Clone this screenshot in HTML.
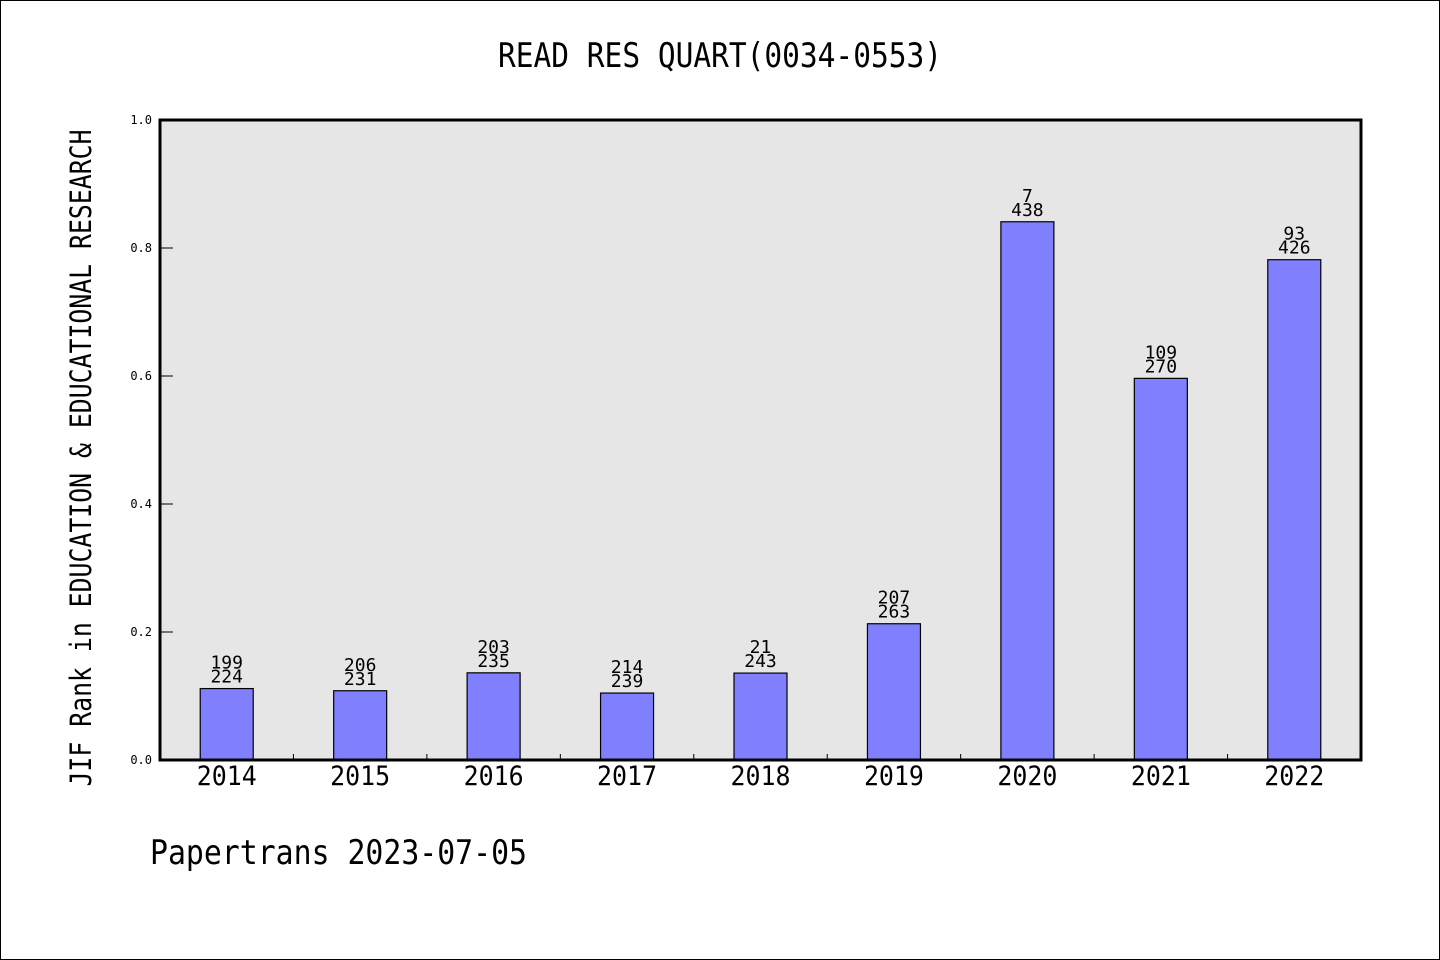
<!DOCTYPE html>
<html><head><meta charset="utf-8"><style>
html,body{margin:0;padding:0;background:#fff}
svg{display:block}
text{font-family:"WenQuanYi Zen Hei Mono","WenQuanYi Zen Hei","DejaVu Sans Mono",monospace;fill:#000}
</style></head><body>
<svg id="chart" width="1440" height="960" xmlns="http://www.w3.org/2000/svg">
<rect x="0.5" y="0.5" width="1439" height="959" fill="#fff" stroke="#000"/>
<text x="720" y="67" text-anchor="middle" font-size="34" textLength="444" lengthAdjust="spacingAndGlyphs">READ RES QUART(0034-0553)</text>
<rect x="160" y="120" width="1201" height="640" fill="#e6e6e6"/>
<g id="bars"></g>
<g id="yticks"></g>
<g id="xticks"></g>
<rect x="160" y="120" width="1201" height="640" fill="none" stroke="#000" stroke-width="3"/>
<text transform="translate(91,458) rotate(-90)" text-anchor="middle" font-size="29" textLength="657" lengthAdjust="spacingAndGlyphs">JIF Rank in EDUCATION &amp; EDUCATIONAL RESEARCH</text>
<text x="150" y="864" font-size="34" textLength="377" lengthAdjust="spacingAndGlyphs">Papertrans 2023-07-05</text>
</svg>
<script>
const categories = ["2014","2015","2016","2017","2018","2019","2020","2021","2022"];
const values = [0.1116,0.1082,0.1362,0.1046,0.1358,0.2129,0.841,0.5963,0.7817];
const rankLabels = ["199","206","203","214","21","207","7","109","93"];
const totalLabels = ["224","231","235","239","243","263","438","270","426"];
const yTicks = [0,0.2,0.4,0.6,0.8,1.0];
const yTickLabels = ["0.0","0.2","0.4","0.6","0.8","1.0"];

const NS="http://www.w3.org/2000/svg";
const X0=160,X1=1361,Y0=760,Y1=120;
const band=(X1-X0)/categories.length;
const xc=i=>X0+band*(i+0.5);
const y=v=>Y0-(v)*(Y0-Y1);
function mk(tag,attrs,parent){const e=document.createElementNS(NS,tag);for(const k in attrs)e.setAttribute(k,attrs[k]);parent.appendChild(e);return e;}
const bars=document.getElementById('bars'),yt=document.getElementById('yticks'),xt=document.getElementById('xticks');
categories.forEach((c,i)=>{
  const top=y(values[i]);
  const r=mk('rect',{x:xc(i)-26.5,y:top,width:53,height:Y0-top,fill:'#8080ff',stroke:'#000','stroke-width':1.2},bars);
  
  
  const t1=mk('text',{x:xc(i),y:top-20,'text-anchor':'middle','font-size':18},bars);t1.textContent=rankLabels[i];
  
  
  const t2=mk('text',{x:xc(i),y:top-6,'text-anchor':'middle','font-size':18},bars);t2.textContent=totalLabels[i];
  
  
  const xl=mk('text',{x:xc(i),y:785,'text-anchor':'middle','font-size':27,textLength:60,lengthAdjust:'spacingAndGlyphs'},xt);xl.textContent=c;
  
  
  if(i>0){const tk=mk('line',{x1:X0+band*i,x2:X0+band*i,y1:Y0,y2:Y0-6,stroke:'#000','stroke-width':1},xt);
  
  }
});
yTicks.forEach((v,i)=>{
  const tk=mk('line',{x1:X0,x2:X0+13,y1:y(v),y2:y(v),stroke:'#000','stroke-width':1},yt);
  
  
  const tl=mk('text',{x:152,y:y(v)+4,'text-anchor':'end','font-size':12},yt);tl.textContent=yTickLabels[i];
  
  
});
</script>
</body></html>
